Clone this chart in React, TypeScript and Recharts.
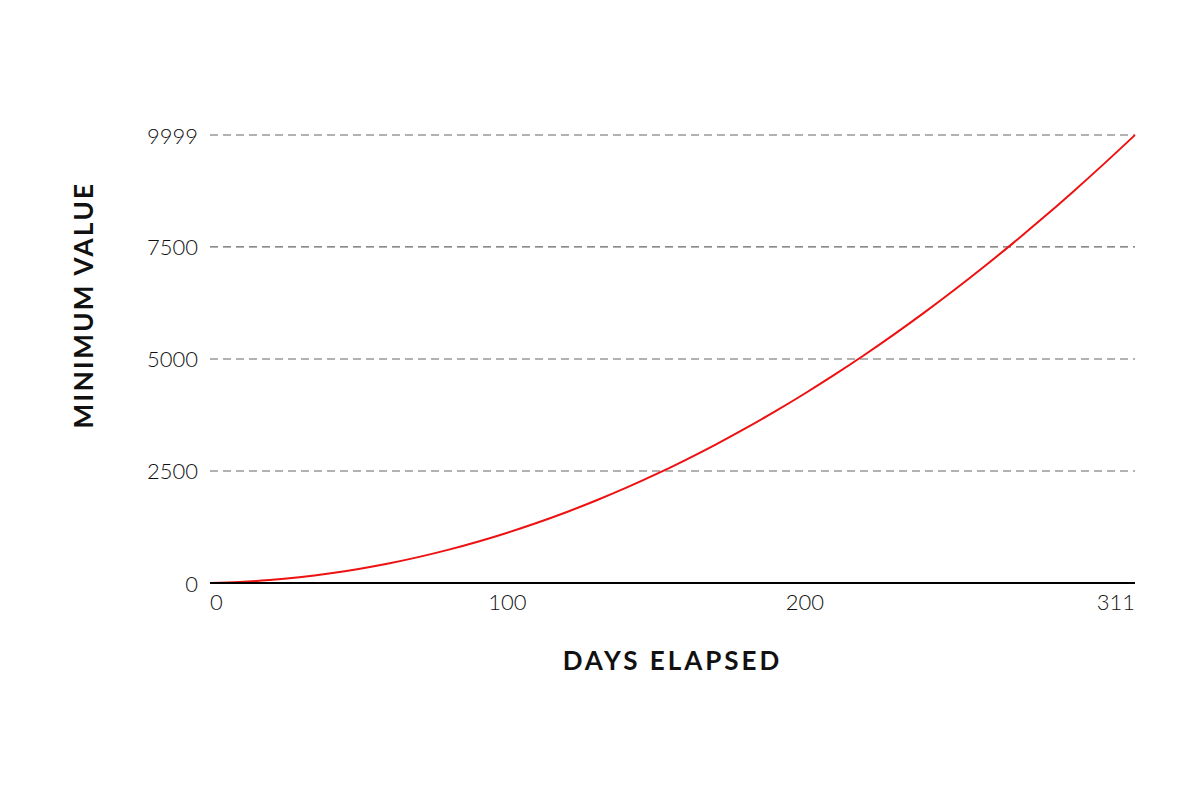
import React from "react";
import { LineChart, Line, XAxis, YAxis, CartesianGrid, Label } from "recharts";

const days = [0, 10, 20, 30, 40, 50, 60, 70, 80, 90, 100, 110, 120, 130, 140, 150, 160, 170, 180, 190, 200, 210, 220, 230, 240, 250, 260, 270, 280, 290, 300, 311];
const minValues = [0, 23, 66, 129, 211, 314, 436, 578, 740, 922, 1123, 1344, 1585, 1846, 2127, 2428, 2750, 3090, 3450, 3830, 4230, 4650, 5089, 5549, 6028, 6528, 7047, 7586, 8144, 8723, 9321, 9999];
const xTicks = [0, 100, 200, 311];
const yTicks = [0, 2500, 5000, 7500, 9999];
const xTitle = "DAYS ELAPSED";
const yTitle = "MINIMUM VALUE";

const data = days.map((d, i) => ({ day: d, value: minValues[i] }));

const FONT = "Lato, 'Open Sans', sans-serif";

const XTick = (props: any) => {
  const { x, y, payload } = props;
  const v = payload.value;
  const anchor = v === xTicks[0] ? "start" : v === xTicks[xTicks.length - 1] ? "end" : "middle";
  return (
    <text x={x} y={y + 10} textAnchor={anchor} dominantBaseline="central" fontFamily={FONT} fontWeight={300} fontSize={22} fill="#111">
      {v}
    </text>
  );
};

const YTick = (props: any) => {
  const { x, y, payload } = props;
  return (
    <text x={x - 4} y={y} textAnchor="end" dominantBaseline="central" fontFamily={FONT} fontWeight={300} fontSize={22} fill="#111">
      {payload.value}
    </text>
  );
};

const YTitle = (props: any) => {
  const { viewBox } = props;
  const cx = 83;
  const cy = viewBox.y + 170;
  return (
    <text x={cx} y={cy} transform={`rotate(-90 ${cx} ${cy})`} textAnchor="middle" dominantBaseline="central" fontFamily={FONT} fontWeight={700} fontSize={26} letterSpacing={2.4} fill="#111">
      {yTitle}
    </text>
  );
};

const XTitle = (props: any) => {
  const { viewBox } = props;
  const cx = viewBox.x + viewBox.width / 2;
  const cy = 660;
  return (
    <text x={cx} y={cy} textAnchor="middle" dominantBaseline="central" fontFamily={FONT} fontWeight={700} fontSize={26} letterSpacing={3} fill="#111">
      {xTitle}
    </text>
  );
};

export default function App() {
  return (
    <div style={{ position: "absolute", left: 0, top: 0, width: 1200, height: 800, background: "#fff" }}>
      <LineChart width={1200} height={800} data={data} margin={{ top: 135, right: 65, bottom: 0, left: 0 }}>
        <CartesianGrid horizontal vertical={false} stroke="#666" strokeDasharray="8 5" strokeWidth={1.2} />
        <XAxis
          dataKey="day"
          type="number"
          domain={[0, 311]}
          ticks={xTicks}
          height={217}
          axisLine={{ stroke: "#000", strokeWidth: 2 }}
          tickLine={false}
          tick={<XTick />}
        >
          <Label content={<XTitle />} />
        </XAxis>
        <YAxis
          type="number"
          domain={[0, 9999]}
          ticks={yTicks}
          width={210}
          axisLine={false}
          tickLine={false}
          tick={<YTick />}
          interval={0}
        >
          <Label content={<YTitle />} />
        </YAxis>
        <Line dataKey="value" type="monotone" stroke="#ee1111" strokeWidth={2} dot={false} isAnimationActive={false} />
      </LineChart>
    </div>
  );
}
